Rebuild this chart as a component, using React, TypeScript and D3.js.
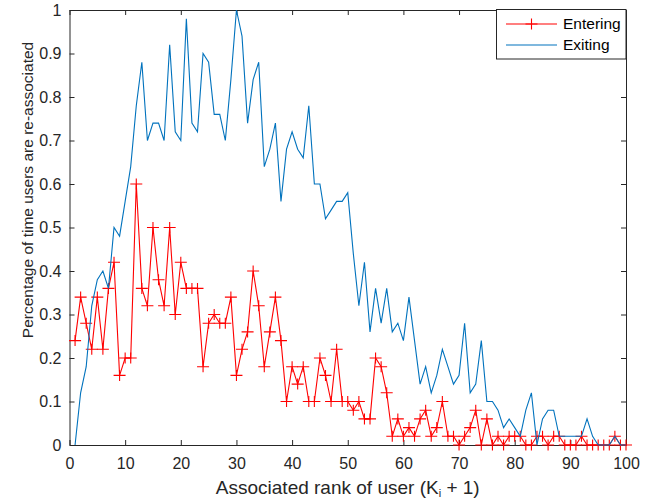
import { useEffect, useRef } from 'react';
import * as d3 from 'd3';

// rank of user (K_i + 1)
const ranks: number[] = d3.range(1, 101);

const entering: number[] = [
  0.24, 0.34, 0.28, 0.22, 0.34, 0.22, 0.36, 0.42, 0.16, 0.2,
  0.2, 0.6, 0.36, 0.32, 0.5, 0.38, 0.32, 0.5, 0.3, 0.42,
  0.36, 0.36, 0.36, 0.18, 0.28, 0.3, 0.28, 0.28, 0.34, 0.16,
  0.22, 0.26, 0.4, 0.32, 0.18, 0.26, 0.34, 0.24, 0.1, 0.18,
  0.14, 0.18, 0.1, 0.1, 0.2, 0.16, 0.1, 0.22, 0.1, 0.1,
  0.08, 0.1, 0.06, 0.06, 0.2, 0.18, 0.12, 0.02, 0.06, 0.02,
  0.04, 0.02, 0.06, 0.08, 0.02, 0.04, 0.1, 0.02, 0.02, 0,
  0.02, 0.04, 0.08, 0, 0.06, 0, 0.02, 0, 0.02, 0.02,
  0.02, 0, 0, 0.02, 0.02, 0, 0.02, 0.02, 0, 0,
  0, 0.02, 0, 0, 0, 0, 0, 0.02, 0, 0,
];

const exiting: number[] = [
  0, 0.12, 0.18, 0.32, 0.38, 0.4, 0.36, 0.5, 0.48, 0.56,
  0.64, 0.78, 0.88, 0.7, 0.74, 0.74, 0.7, 0.92, 0.72, 0.7,
  0.98, 0.74, 0.72, 0.9, 0.88, 0.76, 0.76, 0.7, 0.84, 1.0,
  0.94, 0.74, 0.84, 0.88, 0.64, 0.68, 0.74, 0.56, 0.68, 0.72,
  0.68, 0.66, 0.78, 0.6, 0.6, 0.52, 0.54, 0.56, 0.56, 0.58,
  0.44, 0.32, 0.42, 0.26, 0.36, 0.28, 0.36, 0.26, 0.28, 0.24,
  0.34, 0.24, 0.14, 0.18, 0.12, 0.16, 0.22, 0.18, 0.14, 0.16,
  0.28, 0.12, 0.14, 0.24, 0.1, 0.1, 0.08, 0.04, 0.06, 0.04,
  0.02, 0.08, 0.12, 0, 0.06, 0.08, 0.08, 0.02, 0.02, 0.02,
  0.02, 0.02, 0.06, 0.02, 0, 0, 0, 0.02, 0, 0,
];

const xTicks: number[] = d3.range(0, 101, 10);
const yTicks: number[] = d3.range(0, 1.0001, 0.1);
const seriesNames: string[] = ['Entering', 'Exiting'];

const RED = '#ff0000';
const BLUE = '#0072bd';
const INK = '#262626';
const FONT = '"Liberation Sans", Arial, Helvetica, sans-serif';

const App = () => {
  const svgRef = useRef<SVGSVGElement>(null);

  useEffect(() => {
    const svg = d3.select(svgRef.current);
    svg.selectAll('*').remove();

    const left = 69.5, right = 626, top = 10, bottom = 445;

    const x = d3.scaleLinear().domain([0, 100]).range([left, right]);
    const y = d3.scaleLinear().domain([0, 1]).range([bottom, top]);

    svg.append('rect')
      .attr('x', left).attr('y', top)
      .attr('width', right - left).attr('height', bottom - top)
      .attr('fill', '#fff');

    // axes (MATLAB style: ticks pointing inward on all sides)
    const fmt = (d: d3.NumberValue) => {
      const v = +d;
      return Math.abs(v - Math.round(v)) < 1e-9 ? String(Math.round(v)) : v.toFixed(1);
    };

    const styleAxis = (g: d3.Selection<SVGGElement, unknown, null, undefined>) => {
      g.selectAll('path').attr('stroke', INK);
      g.selectAll('line').attr('stroke', INK);
      g.selectAll('text').attr('fill', INK).style('font-family', FONT).style('font-size', '16px');
    };

    svg.append('g')
      .attr('transform', `translate(0,${bottom})`)
      .call(d3.axisBottom(x).tickValues(xTicks).tickSizeInner(-5).tickSizeOuter(0).tickPadding(13).tickFormat(fmt))
      .call(styleAxis);

    svg.append('g')
      .attr('transform', `translate(0,${top})`)
      .call(d3.axisTop(x).tickValues(xTicks).tickSizeInner(-5).tickSizeOuter(0).tickFormat(() => ''))
      .call(styleAxis);

    svg.append('g')
      .attr('transform', `translate(${left},0)`)
      .call(d3.axisLeft(y).tickValues(yTicks).tickSizeInner(-5).tickSizeOuter(0).tickPadding(8).tickFormat(fmt))
      .call(styleAxis);

    svg.append('g')
      .attr('transform', `translate(${right},0)`)
      .call(d3.axisRight(y).tickValues(yTicks).tickSizeInner(-5).tickSizeOuter(0).tickFormat(() => ''))
      .call(styleAxis);

    // lines
    const line = d3.line<number>()
      .x((_, i) => x(ranks[i]))
      .y(d => y(d));

    const plot = svg.append('g');

    plot.append('path')
      .datum(entering)
      .attr('fill', 'none')
      .attr('stroke', RED)
      .attr('stroke-width', 1.1)
      .attr('d', line);

    plot.selectAll('path.plus')
      .data(entering)
      .join('path')
      .attr('class', 'plus')
      .attr('transform', (d, i) => `translate(${x(ranks[i])},${y(d)})`)
      .attr('d', 'M-6,0H6M0,-5.5V5.5')
      .attr('stroke', RED)
      .attr('stroke-width', 1.1);

    plot.append('path')
      .datum(exiting)
      .attr('fill', 'none')
      .attr('stroke', BLUE)
      .attr('stroke-width', 1.1)
      .attr('d', line);

    // legend
    const lg = svg.append('g');
    lg.append('rect')
      .attr('x', 496.5).attr('y', 9.5)
      .attr('width', 129.5).attr('height', 49.5)
      .attr('fill', '#fff')
      .attr('stroke', INK);

    seriesNames.forEach((name, i) => {
      const ly = 24 + i * 21;
      const color = i === 0 ? RED : BLUE;
      lg.append('line')
        .attr('x1', 506).attr('x2', 557)
        .attr('y1', ly).attr('y2', ly)
        .attr('stroke', color).attr('stroke-width', 1.1);
      if (i === 0) {
        lg.append('path')
          .attr('transform', `translate(531.5,${ly})`)
          .attr('d', 'M-6,0H6M0,-5.5V5.5')
          .attr('stroke', color).attr('stroke-width', 1.1);
      }
      lg.append('text')
        .attr('x', 563).attr('y', ly)
        .attr('dy', '0.35em')
        .attr('fill', '#000')
        .style('font-family', FONT)
        .style('font-size', '15.5px')
        .text(name);
    });

    // axis labels
    const xl = svg.append('text')
      .attr('x', (left + right) / 2)
      .attr('y', 494)
      .attr('text-anchor', 'middle')
      .attr('fill', INK)
      .style('font-family', FONT)
      .style('font-size', '19px');
    xl.append('tspan').text('Associated rank of user (K');
    xl.append('tspan').attr('dy', 3).style('font-size', '11px').text('i');
    xl.append('tspan').attr('dy', -3).text(' + 1)');

    svg.append('text')
      .attr('transform', `translate(33,190) rotate(-90)`)
      .attr('text-anchor', 'middle')
      .attr('fill', INK)
      .style('font-family', FONT)
      .style('font-size', '15.5px')
      .text('Percentage of time users are re-associated');
  }, []);

  return (
    <svg
      ref={svgRef}
      width={650}
      height={501}
      style={{ position: 'absolute', left: 0, top: 0, background: '#fff' }}
    />
  );
};

export default App;
